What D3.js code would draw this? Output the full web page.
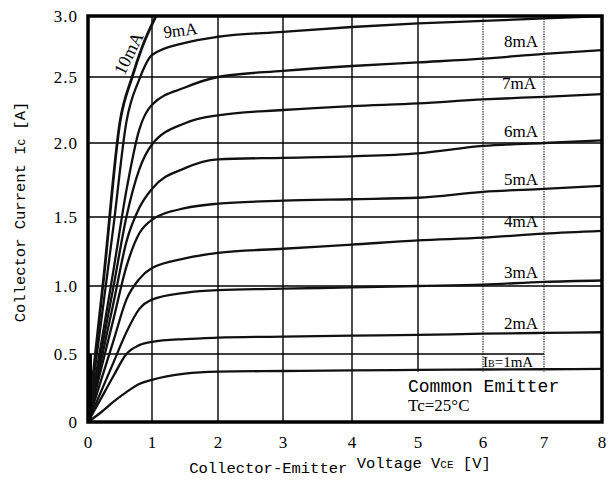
<!DOCTYPE html>
<html>
<head>
<meta charset="utf-8">
<script src="https://cdn.jsdelivr.net/npm/d3@7"></script>
<style>
  body { margin: 0; background: #fff; }
  svg { display: block; }
</style>
</head>
<body>
<div id="chart"></div>
<script>
// tick values
var xTicks = [0, 1, 2, 3, 4, 5, 6, 7, 8];
var yTicks = [0, 0.5, 1.0, 1.5, 2.0, 2.5, 3.0];
var yTickLabels = ["0", "0.5", "1.0", "1.5", "2.0", "2.5", "3.0"];

// collector-emitter voltage samples shared by the 1..9 mA curves
var vce = [0, 0.2, 0.4, 0.6, 0.8, 1.0, 1.5, 2, 3, 4, 5, 6, 7, 8];
var ic1 = [0, 0.07, 0.15, 0.22, 0.28, 0.31, 0.355, 0.37, 0.375, 0.38, 0.383, 0.386, 0.388, 0.39];
var ic2 = [0, 0.17, 0.34, 0.5, 0.565, 0.59, 0.61, 0.62, 0.628, 0.635, 0.64, 0.65, 0.655, 0.66];
var ic3 = [0, 0.22, 0.44, 0.66, 0.83, 0.9, 0.95, 0.97, 0.98, 0.99, 1.0, 1.01, 1.03, 1.04];
var ic4 = [0, 0.3, 0.6, 0.9, 1.05, 1.13, 1.2, 1.24, 1.27, 1.3, 1.33, 1.35, 1.38, 1.40];
var ic5 = [0, 0.38, 0.76, 1.14, 1.38, 1.48, 1.56, 1.59, 1.61, 1.62, 1.63, 1.67, 1.69, 1.71];
var ic6 = [0, 0.44, 0.88, 1.32, 1.56, 1.69, 1.83, 1.89, 1.9, 1.91, 1.93, 1.98, 2.0, 2.02];
var ic7 = [0, 0.5, 1.0, 1.5, 1.82, 1.99, 2.15, 2.21, 2.25, 2.28, 2.3, 2.33, 2.35, 2.37];
var ic8 = [0, 0.56, 1.12, 1.68, 2.1, 2.29, 2.42, 2.5, 2.55, 2.59, 2.62, 2.65, 2.69, 2.72];
var ic9 = [0, 0.72, 1.44, 2.16, 2.48, 2.68, 2.78, 2.83, 2.87, 2.91, 2.94, 2.96, 2.98, 3.0];
// 10 mA curve leaves the chart early, so it has its own samples
var vce10 = [0, 0.25, 0.5, 0.69, 0.85, 1.06];
var ic10 = [0, 1.08, 2.16, 2.5, 2.75, 3.0];

var seriesNames = ["1mA", "2mA", "3mA", "4mA", "5mA", "6mA", "7mA", "8mA", "9mA", "10mA"];

var width = 616, height = 484;

// the scanned grid is a little uneven, so the scales follow the grid lines
var x = d3.scaleLinear().domain(xTicks).range([88, 152, 218, 283, 352, 418, 483, 544, 602]);
var y = d3.scaleLinear().domain(yTicks).range([422, 354, 286, 217, 143, 77, 16]);

var svg = d3.select("#chart").append("svg")
    .attr("width", width)
    .attr("height", height);

svg.append("clipPath").attr("id", "plotclip")
  .append("rect")
    .attr("x", x(0)).attr("y", y(3))
    .attr("width", x(8) - x(0)).attr("height", y(0) - y(3));

// grid lines
var grid = svg.append("g").attr("class", "grid");
grid.selectAll(".vgrid")
    .data(xTicks.slice(1, 8))
  .enter().append("line")
    .attr("x1", function(d) { return x(d); })
    .attr("x2", function(d) { return x(d); })
    .attr("y1", y(3))
    .attr("y2", function(d) { return d >= 5 ? y(0.37) : y(0); })
    .attr("stroke", function(d) { return d >= 6 ? "#555" : "#000"; })
    .attr("stroke-dasharray", function(d) { return d >= 6 ? "1.5,1" : null; })
    .attr("stroke-width", 1.4);
grid.selectAll(".hgrid")
    .data(yTicks.slice(1, 6))
  .enter().append("line")
    .attr("x1", x(0))
    .attr("x2", function(d) { return d == 0.5 ? x(7) : x(8); })
    .attr("y1", function(d) { return y(d); })
    .attr("y2", function(d) { return y(d); })
    .attr("stroke", "#000")
    .attr("stroke-width", 1.4);

// curves
var line = d3.line()
    .x(function(d) { return x(d[0]); })
    .y(function(d) { return y(d[1]); })
    .curve(d3.curveMonotoneX);

var curves = [ic1, ic2, ic3, ic4, ic5, ic6, ic7, ic8, ic9].map(function(ic) {
  return vce.map(function(v, i) { return [v, ic[i]]; });
});
curves.push(vce10.map(function(v, i) { return [v, ic10[i]]; }));

svg.append("g").attr("clip-path", "url(#plotclip)")
  .selectAll("path")
    .data(curves)
  .enter().append("path")
    .attr("d", line)
    .attr("fill", "none")
    .attr("stroke", "#111")
    .attr("stroke-width", function(d, i) { return i == 9 ? 2.8 : 2.3; });

// frame
svg.append("rect")
    .attr("x", x(0)).attr("y", y(3))
    .attr("width", x(8) - x(0)).attr("height", y(0) - y(3))
    .attr("fill", "none")
    .attr("stroke", "#000")
    .attr("stroke-width", 3.5);
// heavy bit of the left edge near the origin
svg.append("line")
    .attr("x1", x(0) + 1.5).attr("x2", x(0) + 1.5)
    .attr("y1", y(0)).attr("y2", y(0.5))
    .attr("stroke", "#000").attr("stroke-width", 5);

// tick labels
svg.selectAll(".ylab")
    .data(yTicks)
  .enter().append("text")
    .attr("x", 78)
    .attr("y", function(d) { return y(d) + 6; })
    .attr("text-anchor", "end")
    .attr("font-family", "Liberation Serif")
    .attr("font-size", "17px")
    .attr("letter-spacing", "1px")
    .text(function(d, i) { return yTickLabels[i]; });

svg.selectAll(".xlab")
    .data(xTicks)
  .enter().append("text")
    .attr("x", function(d) { return x(d); })
    .attr("y", 448)
    .attr("text-anchor", "middle")
    .attr("font-family", "Liberation Serif")
    .attr("font-size", "17px")
    .text(function(d) { return d; });

// axis titles
var ytitle = svg.append("text")
    .attr("transform", "translate(25,212) rotate(-90)")
    .attr("text-anchor", "middle")
    .attr("font-family", "Liberation Mono")
    .attr("font-size", "15.5px")
    .text("Collector Current I");
ytitle.append("tspan").attr("font-size", "11px").text("C");
ytitle.append("tspan").text(" [A]");

var xtitle = svg.append("text")
    .attr("x", 340)
    .attr("y", 473)
    .attr("text-anchor", "middle")
    .attr("font-family", "Liberation Mono")
    .attr("font-size", "15.5px")
    .text("Collector-Emitter ");
xtitle.append("tspan").attr("dy", -5).text("Voltage V");
xtitle.append("tspan").attr("font-size", "11px").text("CE");
xtitle.append("tspan").text(" [V]");

// curve labels
var labelPos = [
  [510, 367], [521, 329], [521, 278], [521, 227], [521, 185],
  [521, 137], [519, 89], [521, 47]
];
svg.selectAll(".clab")
    .data(labelPos)
  .enter().append("text")
    .attr("x", function(d) { return d[0]; })
    .attr("y", function(d) { return d[1]; })
    .attr("text-anchor", "middle")
    .attr("font-family", "Liberation Serif")
    .attr("font-size", "17px")
    .text(function(d, i) { return i == 0 ? "" : seriesNames[i]; });

var ib = svg.append("text")
    .attr("x", 483).attr("y", 367)
    .attr("font-family", "Liberation Serif")
    .attr("font-size", "15px")
    .text("I");
ib.append("tspan").attr("font-size", "10px").text("B");
ib.append("tspan").text("=1mA");

svg.append("text")
    .attr("transform", "translate(181,36) rotate(-7)")
    .attr("text-anchor", "middle")
    .attr("font-family", "Liberation Serif")
    .attr("font-size", "17px")
    .text(seriesNames[8]);

svg.append("text")
    .attr("transform", "translate(134,56) rotate(-64)")
    .attr("text-anchor", "middle")
    .attr("font-family", "Liberation Serif")
    .attr("font-size", "18px")
    .text(seriesNames[9]);

svg.append("text")
    .attr("x", 408).attr("y", 392)
    .attr("font-family", "Liberation Mono")
    .attr("font-size", "18px")
    .text("Common Emitter");
svg.append("text")
    .attr("x", 408).attr("y", 411)
    .attr("font-family", "Liberation Serif")
    .attr("font-size", "17px")
    .text("Tc=25°C");
</script>
</body>
</html>
